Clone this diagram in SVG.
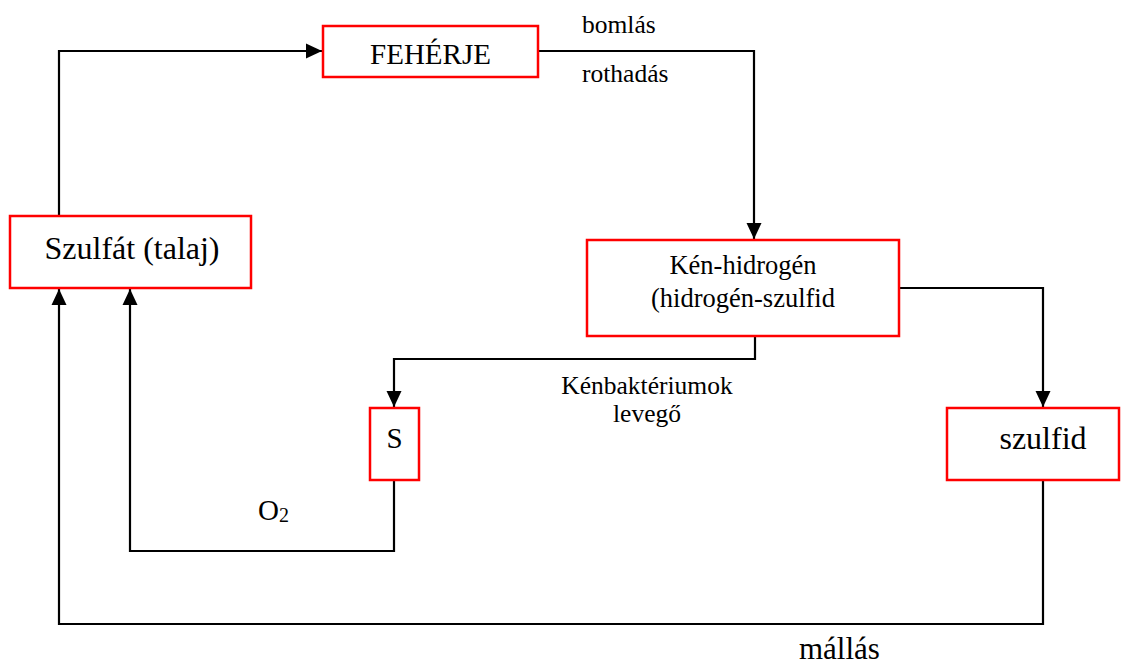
<svg xmlns="http://www.w3.org/2000/svg" width="1128" height="666" viewBox="0 0 1128 666">
<style>
.box{fill:#fff;stroke:#ff0000;stroke-width:2.5}
.line{fill:none;stroke:#000;stroke-width:2.2}
text{font-family:'Liberation Serif','Times New Roman','DejaVu Serif',serif;fill:#000}
.big{font-size:29px}
.big2{font-size:32px}
.small{font-size:25.5px}
.mid{font-size:26.5px}
</style>
<defs>
<marker id="ah" markerUnits="userSpaceOnUse" markerWidth="16" markerHeight="16" viewBox="0 0 16 16" refX="16" refY="8" orient="auto">
<path d="M0,0.5 L16,8 L0,15.5 Z" fill="#000"/>
</marker>
</defs>
<rect width="1128" height="666" fill="#fff"/>
<g id="connectors">
<path class="line" d="M59,216 V51 H322" marker-end="url(#ah)"/>
<path class="line" d="M538,51 H754 V239" marker-end="url(#ah)"/>
<path class="line" d="M899,288 H1043 V407" marker-end="url(#ah)"/>
<path class="line" d="M755,336 V359 H394 V407" marker-end="url(#ah)"/>
<path class="line" d="M394,480 V551 H130 V289" marker-end="url(#ah)"/>
<path class="line" d="M1043,480 V624 H59 V289" marker-end="url(#ah)"/>
</g>
<g id="feherje">
<rect class="box" x="323" y="26" width="215" height="51"/>
<text class="big" x="430.5" y="64" text-anchor="middle" font-family="Liberation Serif, serif">FEHÉRJE</text>
</g>
<g id="szulfat">
<rect class="box" x="10" y="216" width="241" height="72"/>
<text class="big2" x="132" y="259" text-anchor="middle" font-family="Liberation Serif, serif">Szulfát (talaj)</text>
</g>
<g id="kenhidrogen">
<rect class="box" x="587" y="240" width="312" height="96"/>
<text class="mid" x="743" y="274" text-anchor="middle" font-family="Liberation Serif, serif">Kén-hidrogén</text>
<text class="mid" x="743" y="307" text-anchor="middle" font-family="Liberation Serif, serif">(hidrogén-szulfid</text>
</g>
<g id="s">
<rect class="box" x="370" y="408" width="49" height="72"/>
<text class="big" x="394.5" y="448" text-anchor="middle" font-family="Liberation Serif, serif">S</text>
</g>
<g id="szulfid">
<rect class="box" x="947" y="408" width="172" height="72"/>
<text class="big2" x="1043" y="449" text-anchor="middle" font-family="Liberation Serif, serif">szulfid</text>
</g>
<g id="labels">
<text class="small" x="582" y="33" font-family="Liberation Serif, serif">bomlás</text>
<text class="small" x="582" y="82" font-family="Liberation Serif, serif">rothadás</text>
<text class="small" x="647" y="394" text-anchor="middle" font-family="Liberation Serif, serif">Kénbaktériumok</text>
<text class="small" x="647" y="422" text-anchor="middle" font-family="Liberation Serif, serif">levegő</text>
<text class="big" x="258" y="520" font-family="Liberation Serif, serif">O<tspan font-size="20" dy="2">2</tspan></text>
<text x="799" y="659" font-size="31" font-family="Liberation Serif, serif">mállás</text>
</g>
</svg>
